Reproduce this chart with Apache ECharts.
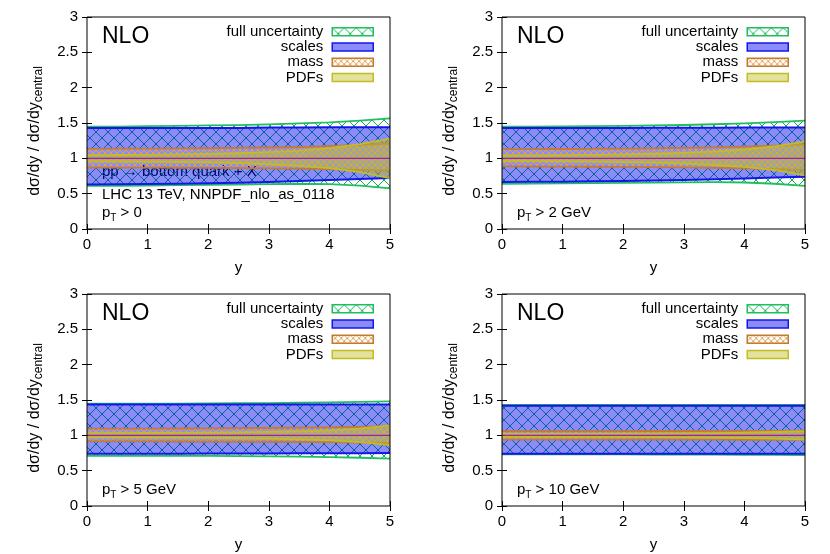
<!DOCTYPE html>
<html>
<head>
<meta charset="utf-8">
<script src="https://cdn.jsdelivr.net/npm/echarts@6/dist/echarts.min.js"></script>
<style>
  html, body { margin: 0; padding: 0; background: #fff; }
  #chart { width: 830px; height: 554px; }
</style>
</head>
<body>
<div id="chart"></div>
<script>
// rapidity points
const ys = [0, 0.5, 1, 1.5, 2, 2.5, 3, 3.5, 4, 4.5, 5];
const central = [1, 1, 1, 1, 1, 1, 1, 1, 1, 1, 1];

// pT > 0
const full0Hi = [1.45, 1.45, 1.455, 1.46, 1.465, 1.47, 1.48, 1.495, 1.51, 1.535, 1.565];
const full0Lo = [0.61, 0.612, 0.615, 0.62, 0.625, 0.63, 0.635, 0.64, 0.635, 0.615, 0.575];
const scale0Hi = [1.43, 1.43, 1.43, 1.43, 1.43, 1.43, 1.435, 1.435, 1.44, 1.44, 1.44];
const scale0Lo = [0.63, 0.633, 0.637, 0.642, 0.648, 0.655, 0.665, 0.678, 0.692, 0.706, 0.72];
const mass0Hi = [1.135, 1.136, 1.138, 1.14, 1.143, 1.147, 1.153, 1.16, 1.172, 1.19, 1.21];
const mass0Lo = [0.87, 0.869, 0.868, 0.867, 0.865, 0.862, 0.858, 0.853, 0.847, 0.838, 0.828];
const pdf0Hi = [1.045, 1.047, 1.05, 1.055, 1.062, 1.072, 1.088, 1.11, 1.145, 1.2, 1.28];
const pdf0Lo = [0.958, 0.955, 0.952, 0.948, 0.942, 0.932, 0.915, 0.893, 0.86, 0.805, 0.72];

// pT > 2 GeV
const full2Hi = [1.45, 1.45, 1.452, 1.455, 1.46, 1.465, 1.472, 1.482, 1.495, 1.512, 1.535];
const full2Lo = [0.64, 0.642, 0.645, 0.648, 0.652, 0.656, 0.66, 0.662, 0.658, 0.64, 0.61];
const scale2Hi = [1.43, 1.43, 1.43, 1.43, 1.43, 1.432, 1.433, 1.434, 1.435, 1.435, 1.435];
const scale2Lo = [0.665, 0.667, 0.67, 0.674, 0.679, 0.685, 0.693, 0.703, 0.715, 0.728, 0.74];
const mass2Hi = [1.13, 1.131, 1.132, 1.134, 1.137, 1.141, 1.147, 1.155, 1.165, 1.18, 1.198];
const mass2Lo = [0.885, 0.884, 0.883, 0.881, 0.879, 0.876, 0.872, 0.866, 0.858, 0.848, 0.836];
const pdf2Hi = [1.04, 1.042, 1.045, 1.05, 1.056, 1.065, 1.078, 1.097, 1.125, 1.17, 1.24];
const pdf2Lo = [0.962, 0.96, 0.957, 0.953, 0.947, 0.938, 0.925, 0.906, 0.878, 0.832, 0.76];

// pT > 5 GeV
const full5Hi = [1.45, 1.45, 1.45, 1.45, 1.452, 1.454, 1.457, 1.461, 1.466, 1.473, 1.48];
const full5Lo = [0.71, 0.71, 0.71, 0.709, 0.708, 0.706, 0.703, 0.699, 0.693, 0.683, 0.67];
const scale5Hi = [1.435, 1.435, 1.435, 1.435, 1.435, 1.435, 1.435, 1.435, 1.435, 1.435, 1.435];
const scale5Lo = [0.74, 0.74, 0.741, 0.741, 0.742, 0.743, 0.744, 0.745, 0.746, 0.748, 0.75];
const mass5Hi = [1.095, 1.095, 1.096, 1.097, 1.099, 1.101, 1.104, 1.108, 1.113, 1.12, 1.13];
const mass5Lo = [0.915, 0.915, 0.914, 0.913, 0.912, 0.911, 0.909, 0.906, 0.903, 0.898, 0.892];
const pdf5Hi = [1.03, 1.031, 1.033, 1.035, 1.038, 1.042, 1.048, 1.057, 1.07, 1.095, 1.14];
const pdf5Lo = [0.972, 0.971, 0.969, 0.967, 0.964, 0.959, 0.953, 0.944, 0.93, 0.905, 0.86];

// pT > 10 GeV
const full10Hi = [1.43, 1.43, 1.43, 1.43, 1.43, 1.43, 1.43, 1.43, 1.43, 1.43, 1.43];
const full10Lo = [0.73, 0.73, 0.73, 0.73, 0.73, 0.729, 0.728, 0.727, 0.725, 0.723, 0.72];
const scale10Hi = [1.42, 1.42, 1.42, 1.42, 1.42, 1.42, 1.42, 1.42, 1.42, 1.42, 1.42];
const scale10Lo = [0.74, 0.74, 0.74, 0.74, 0.74, 0.74, 0.74, 0.74, 0.74, 0.74, 0.74];
const mass10Hi = [1.06, 1.06, 1.06, 1.06, 1.06, 1.061, 1.061, 1.062, 1.063, 1.064, 1.065];
const mass10Lo = [0.94, 0.94, 0.94, 0.94, 0.94, 0.939, 0.939, 0.938, 0.937, 0.936, 0.935];
const pdf10Hi = [1.02, 1.02, 1.021, 1.022, 1.023, 1.025, 1.028, 1.032, 1.038, 1.047, 1.06];
const pdf10Lo = [0.98, 0.98, 0.979, 0.978, 0.977, 0.975, 0.972, 0.968, 0.962, 0.953, 0.94];

const cutLabels = ['0', '2 GeV', '5 GeV', '10 GeV'];
const bandNames = ['full uncertainty', 'scales', 'mass', 'PDFs'];
const xTicks = [0, 5, 1];        // min, max, interval
const yTicks = [0, 3, 0.5];

const panels = [
  { full: [full0Lo, full0Hi], scale: [scale0Lo, scale0Hi], mass: [mass0Lo, mass0Hi], pdf: [pdf0Lo, pdf0Hi] },
  { full: [full2Lo, full2Hi], scale: [scale2Lo, scale2Hi], mass: [mass2Lo, mass2Hi], pdf: [pdf2Lo, pdf2Hi] },
  { full: [full5Lo, full5Hi], scale: [scale5Lo, scale5Hi], mass: [mass5Lo, mass5Hi], pdf: [pdf5Lo, pdf5Hi] },
  { full: [full10Lo, full10Hi], scale: [scale10Lo, scale10Hi], mass: [mass10Lo, mass10Hi], pdf: [pdf10Lo, pdf10Hi] }
];

const FONT = "'Liberation Sans', Arial, sans-serif";
const grids = [
  { left: 87, top: 17, width: 303, height: 212 },
  { left: 502, top: 17, width: 303, height: 212 },
  { left: 87, top: 294, width: 303, height: 212 },
  { left: 502, top: 294, width: 303, height: 212 }
];

function hatch(size, color, lw) {
  const c = document.createElement('canvas');
  c.width = size; c.height = size;
  const g = c.getContext('2d');
  g.strokeStyle = color;
  g.lineWidth = lw;
  g.beginPath();
  g.moveTo(0, 0); g.lineTo(size, size);
  g.moveTo(size, 0); g.lineTo(0, size);
  g.stroke();
  return c;
}

const greenEdge = '#1fbf5f';
const blueEdge = '#1414ee';
const brownEdge = '#c47a30';
const yellowEdge = '#c4bc24';
const greenFill = { image: hatch(12, '#10b050', 1), repeat: 'repeat' };
const blueFill = 'rgba(0,0,240,0.45)';
const brownFill = { image: hatch(6, '#e0a050', 1), repeat: 'repeat' };
const yellowFill = 'rgba(190,190,30,0.45)';

const bandStyle = {
  'full uncertainty': { fill: greenFill, edge: greenEdge, w: 1.8 },
  'scales': { fill: blueFill, edge: blueEdge, w: 2 },
  'mass': { fill: brownFill, edge: brownEdge, w: 1.8 },
  'PDFs': { fill: yellowFill, edge: yellowEdge, w: 1.8 }
};

function bandRender(st) {
  return function (params, api) {
    if (params.dataIndexInside !== 0) return null;
    const n = params.dataInsideLength;
    const top = [], bot = [];
    for (let i = 0; i < n; i++) {
      top.push(api.coord([api.value(0, i), api.value(2, i)]));
      bot.push(api.coord([api.value(0, i), api.value(1, i)]));
    }
    return {
      type: 'group',
      children: [
        { type: 'polygon', shape: { points: top.concat(bot.slice().reverse()) }, style: { fill: st.fill } },
        { type: 'polyline', shape: { points: top }, style: { stroke: st.edge, lineWidth: st.w, fill: null } },
        { type: 'polyline', shape: { points: bot }, style: { stroke: st.edge, lineWidth: st.w, fill: null } }
      ]
    };
  };
}

let xAxes = [], yAxes = [], series = [], legends = [], graphics = [];

const tickLabel = { color: '#000', fontSize: 15, fontFamily: FONT };

grids.forEach(function (g, p) {
  xAxes.push({
    type: 'value', gridIndex: p, min: xTicks[0], max: xTicks[1], interval: xTicks[2],
    name: 'y', nameLocation: 'middle', nameGap: 31,
    nameTextStyle: { color: '#000', fontSize: 15, fontFamily: FONT },
    axisLine: { show: false }, splitLine: { show: false },
    axisTick: { inside: true, length: 5, lineStyle: { color: '#000' } },
    axisLabel: Object.assign({ margin: 8 }, tickLabel)
  });
  yAxes.push({
    type: 'value', gridIndex: p, min: yTicks[0], max: yTicks[1], interval: yTicks[2],
    axisLine: { show: false }, splitLine: { show: false },
    axisTick: { inside: true, length: 5, lineStyle: { color: '#000' } },
    axisLabel: Object.assign({ margin: 9 }, tickLabel)
  });
});
grids.forEach(function (g, p) {
  xAxes.push({
    type: 'value', gridIndex: p, position: 'top', min: xTicks[0], max: xTicks[1], interval: xTicks[2],
    axisLine: { show: false }, splitLine: { show: false }, axisLabel: { show: false },
    axisTick: { inside: true, length: 5, lineStyle: { color: '#000' } }
  });
  yAxes.push({
    type: 'value', gridIndex: p, position: 'right', min: yTicks[0], max: yTicks[1], interval: yTicks[2],
    axisLine: { show: false }, splitLine: { show: false }, axisLabel: { show: false },
    axisTick: { inside: true, length: 5, lineStyle: { color: '#000' } }
  });
});

panels.forEach(function (pd, p) {
  const keys = ['full', 'scale', 'mass', 'pdf'];
  keys.forEach(function (k, bi) {
    const name = bandNames[bi];
    const lo = pd[k][0], hi = pd[k][1];
    series.push({
      type: 'custom', name: name, xAxisIndex: p, yAxisIndex: p, z: 2 + bi,
      renderItem: bandRender(bandStyle[name]),
      encode: { x: 0, y: [1, 2] },
      itemStyle: { color: bandStyle[name].fill, borderColor: bandStyle[name].edge, borderWidth: 1.5 },
      silent: true,
      data: ys.map(function (x, i) { return [x, lo[i], hi[i]]; })
    });
  });
  series.push({
    type: 'line', name: 'central', xAxisIndex: p, yAxisIndex: p, z: 8,
    symbol: 'none', silent: true,
    lineStyle: { color: '#a020a0', width: 1.2 },
    data: ys.map(function (x, i) { return [x, central[i]]; })
  });

  const g = grids[p];
  legends.push({
    orient: 'vertical', align: 'right', icon: 'rect',
    right: 830 - (g.left + 287), top: g.top + 7,
    itemWidth: 41, itemHeight: 8, itemGap: 0, padding: 0,
    selectedMode: false,
    textStyle: { color: '#000', fontSize: 15, fontFamily: FONT, lineHeight: 15.3, padding: [0, 4, 0, 0] },
    data: bandNames.map(function (n) {
      return { name: n, itemStyle: { color: bandStyle[n].fill, borderColor: bandStyle[n].edge, borderWidth: 1.5 } };
    })
  });

  graphics.push({
    type: 'text', x: g.left + 15, y: g.top + 20,
    style: { text: 'NLO', font: '23px ' + FONT, fill: '#000', verticalAlign: 'middle' }
  });
  graphics.push({
    type: 'text', x: g.left + 15, y: g.top + 196,
    style: {
      text: '{a|p}{s|T}{a| > ' + cutLabels[p] + '}', verticalAlign: 'middle',
      rich: {
        a: { fontSize: 15, fontFamily: FONT, fill: '#000', lineHeight: 20 },
        s: { fontSize: 10, fontFamily: FONT, fill: '#000', lineHeight: 12, verticalAlign: 'bottom' }
      }
    }
  });
  graphics.push({
    type: 'text', x: g.left - 52, y: g.top + 114, rotation: Math.PI / 2,
    style: {
      text: '{a|dσ/dy / dσ/dy}{s|central}', align: 'center', verticalAlign: 'middle',
      rich: {
        a: { fontSize: 16, fontFamily: FONT, fill: '#000', lineHeight: 20 },
        s: { fontSize: 12, fontFamily: FONT, fill: '#000', lineHeight: 12, verticalAlign: 'bottom' }
      }
    }
  });
});

graphics.push({
  type: 'text', x: 102, y: 172,
  style: { text: 'pp → bottom quark + X', font: '15px ' + FONT, fill: '#000', verticalAlign: 'middle' }
});
graphics.push({
  type: 'text', x: 102, y: 195,
  style: { text: 'LHC 13 TeV, NNPDF_nlo_as_0118', font: '15px ' + FONT, fill: '#000', verticalAlign: 'middle' }
});

const chart = echarts.init(document.getElementById('chart'), null, { renderer: 'canvas' });
chart.setOption({
  animation: false,
  backgroundColor: '#fff',
  grid: grids.map(function (g) {
    return Object.assign({ show: true, borderColor: '#000', borderWidth: 1, backgroundColor: 'transparent', z: 10 }, g);
  }),
  xAxis: xAxes,
  yAxis: yAxes,
  legend: legends,
  graphic: graphics,
  series: series
});
</script>
</body>
</html>
